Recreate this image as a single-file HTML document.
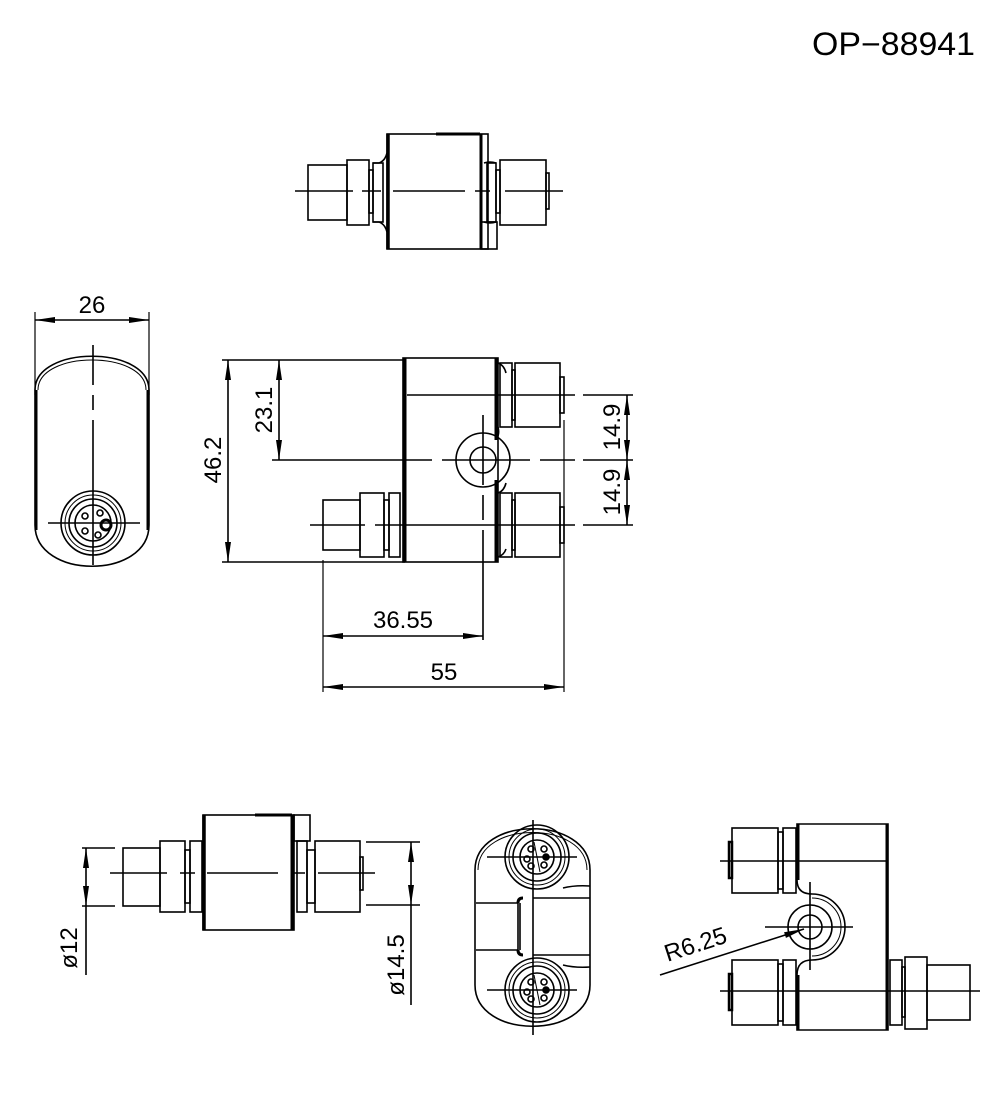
<!DOCTYPE html>
<html><head><meta charset="utf-8"><style>
html,body{margin:0;padding:0;background:#fff;}
svg{display:block;}
text{font-family:"Liberation Sans",sans-serif;fill:#000;}
</style></head><body>
<svg width="1000" height="1100" viewBox="0 0 1000 1100" xmlns="http://www.w3.org/2000/svg">
<defs>
<marker id="a" viewBox="0 0 20 6" refX="20" refY="3" markerWidth="20" markerHeight="6" markerUnits="userSpaceOnUse" orient="auto-start-reverse"><path d="M0,0 L20,3 L0,6 z" fill="#000"/></marker>
</defs>
<g fill="none" stroke="#000" stroke-width="1.6">
<text x="975" y="55" font-size="32" text-anchor="end" textLength="163" lengthAdjust="spacingAndGlyphs" stroke="none">OP−88941</text>

<!-- TOP VIEW -->
<rect x="308" y="165" width="39" height="55"/>
<rect x="347" y="160" width="22" height="65"/>
<rect x="369" y="170" width="4" height="43"/>
<path d="M373,163 h6 q6,-2 8,-10 M373,222 h6 q6,2 8,10"/>
<rect x="373" y="163" width="10" height="59"/>
<rect x="387" y="134" width="101" height="115"/>
<line x1="388" y1="134" x2="388" y2="249" stroke-width="3.5"/>
<line x1="481" y1="134" x2="481" y2="249" stroke-width="3"/>
<line x1="436" y1="134" x2="480" y2="134" stroke-width="3"/>
<rect x="481" y="222" width="16" height="27"/>
<path d="M484,163 q6,-2 12,0 M484,222 q6,2 12,0"/>
<rect x="487" y="163" width="9" height="59"/>
<rect x="496" y="170" width="4" height="43"/>
<rect x="500" y="160" width="46" height="65"/>
<rect x="546" y="173" width="3" height="36"/>
<path d="M295,191 H353 M362,191 H381 M393,191 H465 M475,191 H490 M505,191 H563"/>

<!-- SIDE VIEW LEFT -->
<path d="M35,390 C35,345 149,345 149,390 V525 C149,580 35,580 35,525 Z"/>
<path d="M38,390 C38,350 146,350 146,390" stroke-width="1"/>
<line x1="36" y1="390" x2="36" y2="530" stroke-width="3"/>
<line x1="148" y1="390" x2="148" y2="530" stroke-width="3"/>
<circle cx="93" cy="523" r="32"/><circle cx="93" cy="523" r="28" stroke-width="1"/><circle cx="93" cy="523" r="24"/><circle cx="93" cy="523" r="18"/>
<circle cx="85" cy="516" r="3"/><circle cx="100" cy="513" r="3"/><circle cx="85" cy="531" r="3"/><circle cx="98" cy="535" r="3"/>
<circle cx="106" cy="525" r="5" stroke-width="3"/>
<path d="M93,345 V385 M93,395 V410 M93,420 V565 M48,523 H140"/>
<line x1="35" y1="312" x2="35" y2="395" stroke-width="1.2"/>
<line x1="149" y1="312" x2="149" y2="395" stroke-width="1.2"/>
<line x1="35" y1="320" x2="149" y2="320" marker-start="url(#a)" marker-end="url(#a)"/>
<text x="92" y="313" font-size="24" text-anchor="middle" stroke="none">26</text>

<!-- MAIN VIEW -->
<line x1="222" y1="360" x2="405" y2="360"/>
<line x1="222" y1="562" x2="405" y2="562"/>
<line x1="228" y1="360" x2="228" y2="562" marker-start="url(#a)" marker-end="url(#a)"/>
<line x1="279" y1="360" x2="279" y2="460" marker-start="url(#a)" marker-end="url(#a)"/>
<text transform="translate(221,460) rotate(-90)" font-size="24" text-anchor="middle" stroke="none">46.2</text>
<text transform="translate(272,410) rotate(-90)" font-size="24" text-anchor="middle" stroke="none">23.1</text>
<rect x="403" y="358" width="95" height="204"/>
<line x1="405" y1="358" x2="405" y2="562" stroke-width="3"/>
<line x1="496" y1="358" x2="496" y2="440" stroke-width="3"/>
<line x1="496" y1="480" x2="496" y2="562" stroke-width="3"/>
<path d="M498,363 q6,2 8,10 M498,427 q2,8 -2,12 M498,493 q6,-2 8,-10 M498,557 q6,-2 8,-8" />
<rect x="500" y="363" width="12" height="64"/><rect x="512" y="370" width="3" height="50"/>
<rect x="515" y="363" width="45" height="64"/><rect x="560" y="377" width="4" height="36"/>
<rect x="500" y="493" width="12" height="64"/><rect x="512" y="500" width="3" height="50"/>
<rect x="515" y="493" width="45" height="64"/><rect x="560" y="507" width="4" height="36"/>
<rect x="323" y="500" width="37" height="50"/>
<rect x="360" y="493" width="24" height="64"/>
<rect x="384" y="500" width="5" height="50"/>
<rect x="389" y="493" width="11" height="64"/>
<circle cx="483" cy="460" r="27"/><circle cx="483" cy="460" r="13"/>
<path d="M272,460 H432 M442,460 H530 M540,460 H575 M583,460 H633"/>
<path d="M407,395 H575 M583,395 H633 M310,525 H365 M375,525 H575 M583,525 H633"/>
<path d="M483,415 V485 M483,495 V520 M483,530 V640"/>
<line x1="564" y1="420" x2="564" y2="692" stroke-width="1.2"/>
<line x1="323" y1="560" x2="323" y2="692" stroke-width="1.2"/>
<line x1="627" y1="395" x2="627" y2="460" marker-start="url(#a)" marker-end="url(#a)"/>
<line x1="627" y1="460" x2="627" y2="525" marker-start="url(#a)" marker-end="url(#a)"/>
<text transform="translate(620,427) rotate(-90)" font-size="24" text-anchor="middle" stroke="none">14.9</text>
<text transform="translate(620,492) rotate(-90)" font-size="24" text-anchor="middle" stroke="none">14.9</text>
<line x1="323" y1="636" x2="483" y2="636" marker-start="url(#a)" marker-end="url(#a)"/>
<text x="403" y="628" font-size="24" text-anchor="middle" stroke="none">36.55</text>
<line x1="323" y1="687" x2="564" y2="687" marker-start="url(#a)" marker-end="url(#a)"/>
<text x="444" y="680" font-size="24" text-anchor="middle" stroke="none">55</text>

<!-- BOTTOM LEFT -->
<rect x="123" y="848" width="37" height="58"/>
<rect x="160" y="841" width="25" height="71"/>
<rect x="185" y="850" width="5" height="53"/>
<rect x="190" y="841" width="12" height="71"/>
<rect x="203" y="815" width="91" height="115"/>
<line x1="204" y1="815" x2="204" y2="930" stroke-width="3.5"/>
<line x1="292" y1="815" x2="292" y2="930" stroke-width="3"/>
<line x1="255" y1="815" x2="292" y2="815" stroke-width="3"/>
<rect x="294" y="815" width="16" height="26"/>
<rect x="297" y="841" width="10" height="71"/>
<rect x="307" y="850" width="8" height="53"/>
<rect x="315" y="841" width="45" height="71"/>
<rect x="360" y="857" width="3" height="33"/>
<path d="M110,873 H167 M180,873 H195 M207,873 H278 M292,873 H305 M318,873 H375"/>
<path d="M82,848 H115 M82,906 H115"/>
<line x1="86" y1="848" x2="86" y2="906" marker-start="url(#a)" marker-end="url(#a)"/>
<line x1="86" y1="906" x2="86" y2="975"/>
<text transform="translate(77,948) rotate(-90)" font-size="24" text-anchor="middle" stroke="none">ø12</text>
<path d="M366,842 H420 M366,905 H420"/>
<line x1="411" y1="842" x2="411" y2="905" marker-start="url(#a)" marker-end="url(#a)"/>
<line x1="411" y1="905" x2="411" y2="1005"/>
<text transform="translate(404,965) rotate(-90)" font-size="24" text-anchor="middle" stroke="none">ø14.5</text>

<!-- BOTTOM MIDDLE -->
<path d="M475,870 C475,815 590,815 590,870 V985 C590,1040 475,1040 475,985 Z"/>
<path d="M478,870 C478,820 587,820 587,870" stroke-width="1"/>
<circle cx="537" cy="857" r="32"/><circle cx="537" cy="857" r="28" stroke-width="1"/><circle cx="537" cy="857" r="24"/><circle cx="537" cy="857" r="17"/>
<circle cx="531" cy="849" r="3"/><circle cx="544" cy="849" r="3"/><circle cx="527" cy="859" r="3"/><circle cx="531" cy="866" r="3"/><circle cx="544" cy="865" r="3"/><path d="M534,842 L540,872" stroke-width="1"/><circle cx="546" cy="857" r="3" fill="#000"/>
<circle cx="537" cy="990" r="32"/><circle cx="537" cy="990" r="28" stroke-width="1"/><circle cx="537" cy="990" r="24"/><circle cx="537" cy="990" r="17"/>
<circle cx="531" cy="982" r="3"/><circle cx="544" cy="982" r="3"/><circle cx="527" cy="992" r="3"/><circle cx="531" cy="999" r="3"/><circle cx="544" cy="998" r="3"/><path d="M534,975 L540,1005" stroke-width="1"/><circle cx="546" cy="990" r="3" fill="#000"/>
<path d="M476,903 H518 M476,950 H518 M518,903 V950 M520,903 V950 M533,898 H590 M533,955 H590 M563,888 Q575,885 590,886 M563,965 Q575,968 590,967"/>
<path d="M518,903 q0,-5 5,-5 M518,950 q0,5 5,5" stroke-width="3"/>
<path d="M533,820 V1035 M487,857 H577 M487,990 H577"/>

<!-- BOTTOM RIGHT -->
<rect x="732" y="828" width="46" height="65"/><rect x="729" y="842" width="3" height="36" stroke-width="2.5"/>
<rect x="778" y="832" width="5" height="57"/><rect x="783" y="828" width="13" height="65"/>
<rect x="732" y="960" width="46" height="65"/><rect x="729" y="974" width="3" height="36" stroke-width="2.5"/>
<rect x="778" y="964" width="5" height="57"/><rect x="783" y="960" width="13" height="65"/>
<path d="M797,824 H888 V1030 H797 V975 Q797,960 812,960 A33,33 0 0 0 812,894 Q797,894 797,880 Z"/>
<line x1="798" y1="824" x2="798" y2="880" stroke-width="3"/>
<line x1="798" y1="975" x2="798" y2="1030" stroke-width="3"/>
<line x1="887" y1="824" x2="887" y2="1030" stroke-width="3"/>
<path d="M812,898 A29,29 0 0 1 812,956" stroke-width="1"/>
<circle cx="810" cy="927" r="22"/><circle cx="810" cy="927" r="12"/>
<rect x="890" y="960" width="12" height="65"/><rect x="902" y="967" width="3" height="50"/>
<rect x="905" y="957" width="22" height="72"/><rect x="927" y="965" width="43" height="55"/>
<path d="M720,861 H888 M720,991 H980 M765,927 H853 M810,882 V970"/>
<line x1="660" y1="975" x2="804" y2="929" marker-end="url(#a)"/>
<text transform="translate(698,952) rotate(-18)" font-size="24" text-anchor="middle" stroke="none">R6.25</text>
</g>
</svg>
</body></html>
